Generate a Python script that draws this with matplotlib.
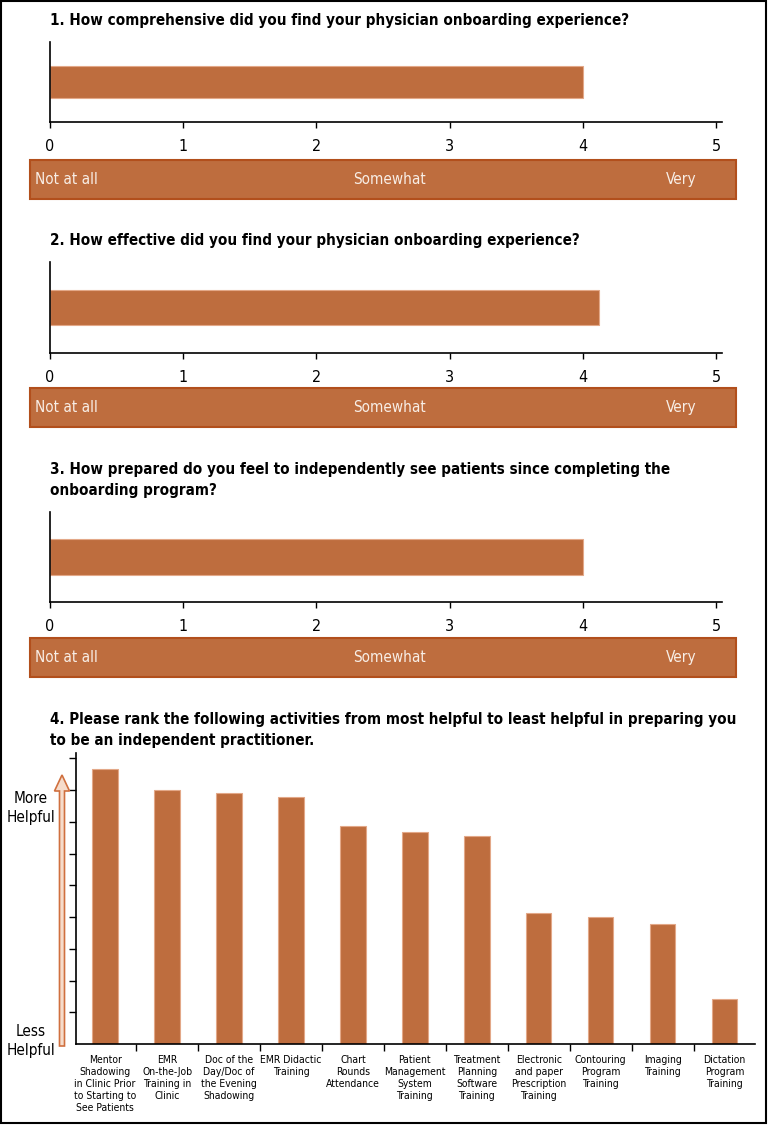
import matplotlib.pyplot as plt
from matplotlib.patches import Rectangle, FancyArrow

plt.rcParams['font.family'] = ['DejaVu Sans']
plt.rcParams['font.stretch'] = 'condensed'

W, H = 768, 1125
bar_color = '#BE6D3E'
box_edge = '#B24F1C'

questions = [
    '1. How comprehensive did you find your physician onboarding experience?',
    '2. How effective did you find your physician onboarding experience?',
    '3. How prepared do you feel to independently see patients since completing the\nonboarding program?',
]
scores = [4.0, 4.12, 4.0]
scale_labels = ['Not at all', 'Somewhat', 'Very']

rank_title = ('4. Please rank the following activities from most helpful to least helpful in preparing you\n'
              'to be an independent practitioner.')
activities = [
    'Mentor\nShadowing\nin Clinic Prior\nto Starting to\nSee Patients',
    'EMR\nOn-the-Job\nTraining in\nClinic',
    'Doc of the\nDay/Doc of\nthe Evening\nShadowing',
    'EMR Didactic\nTraining',
    'Chart\nRounds\nAttendance',
    'Patient\nManagement\nSystem\nTraining',
    'Treatment\nPlanning\nSoftware\nTraining',
    'Electronic\nand paper\nPrescription\nTraining',
    'Contouring\nProgram\nTraining',
    'Imaging\nTraining',
    'Dictation\nProgram\nTraining',
]
rank_scores = [8.67, 8.0, 7.9, 7.79, 6.88, 6.69, 6.56, 4.13, 4.0, 3.79, 1.42]


def px_axes(fig, x0, y0, x1, y1):
    return fig.add_axes([x0 / W, 1 - y1 / H, (x1 - x0) / W, (y1 - y0) / H])


fig = plt.figure(figsize=(W / 100, H / 100), dpi=100)

ov = fig.add_axes([0, 0, 1, 1], zorder=5)
ov.set_xlim(0, W)
ov.set_ylim(H, 0)
ov.axis('off')
ov.patch.set_alpha(0)

# title y, axes top, axes bottom, box top, box bottom (pixels)
panels = [
    (20, 42, 122, 160, 199),
    (240, 262, 353, 388, 427),
    (480, 512, 602, 638, 677),
]

for q, s, (ty, at, ab, bt, bb) in zip(questions, scores, panels):
    ov.text(50, ty, q, fontsize=10.9, fontweight='bold', va='center', ha='left', linespacing=1.45)
    ax = px_axes(fig, 50, at, 722, ab)
    ax.barh(0.5, s, height=0.39, color=bar_color, edgecolor='#E3A888', linewidth=0.8)
    ax.set_xlim(0, 5.045)
    ax.set_ylim(0, 1)
    ax.set_xticks(range(6))
    ax.set_yticks([])
    ax.tick_params(axis='x', length=4, width=1, pad=8, labelsize=11.5)
    for sp in ['top', 'right']:
        ax.spines[sp].set_visible(False)
    ax.spines['left'].set_linewidth(1.2)
    ax.spines['bottom'].set_linewidth(1.2)

    ov.add_patch(Rectangle((30, bt), 706, bb - bt, facecolor=bar_color, edgecolor=box_edge, linewidth=1.5))
    my = (bt + bb) / 2
    ov.text(35, my, scale_labels[0], color='#F8EEE6', fontsize=11, va='center', ha='left')
    ov.text(389, my, scale_labels[1], color='#F8EEE6', fontsize=11, va='center', ha='center')
    ov.text(681, my, scale_labels[2], color='#F8EEE6', fontsize=11, va='center', ha='center')

ov.text(50, 730, rank_title, fontsize=10.9, fontweight='bold', va='center', ha='left', linespacing=1.45)
ax4 = px_axes(fig, 76, 753, 755, 1044)
ax4.bar(range(len(rank_scores)), rank_scores, width=0.41, color=bar_color, edgecolor='#E3A888', linewidth=0.8)
ax4.set_xlim(-0.47, 10.49)
ax4.set_ylim(0, 9.17)
ax4.set_yticks(range(1, 10))
ax4.set_yticklabels([])
ax4.set_xticks([i + 0.5 for i in range(10)])
ax4.set_xticklabels([])
ax4.tick_params(axis='both', length=5, width=1)
for sp in ['top', 'right']:
    ax4.spines[sp].set_visible(False)
ax4.spines['left'].set_linewidth(1.2)
ax4.spines['bottom'].set_linewidth(1.2)
for i, name in enumerate(activities):
    ax4.text(i, -0.35, name, fontsize=7.5, ha='center', va='top', linespacing=1.25)

ov.add_patch(FancyArrow(62, 1046, 0, -271, width=5, head_width=15, head_length=16,
                        length_includes_head=True, facecolor='#F6DCCB', edgecolor='#D0703F', linewidth=1.2))
ov.text(31, 808, 'More\nHelpful', fontsize=11, ha='center', va='center', linespacing=1.3)
ov.text(31, 1041, 'Less\nHelpful', fontsize=11, ha='center', va='center', linespacing=1.3)

ov.add_patch(Rectangle((1, 1), W - 3, H - 3, facecolor='none', edgecolor='black', linewidth=1.5))

fig.savefig('out.png', dpi=100)
